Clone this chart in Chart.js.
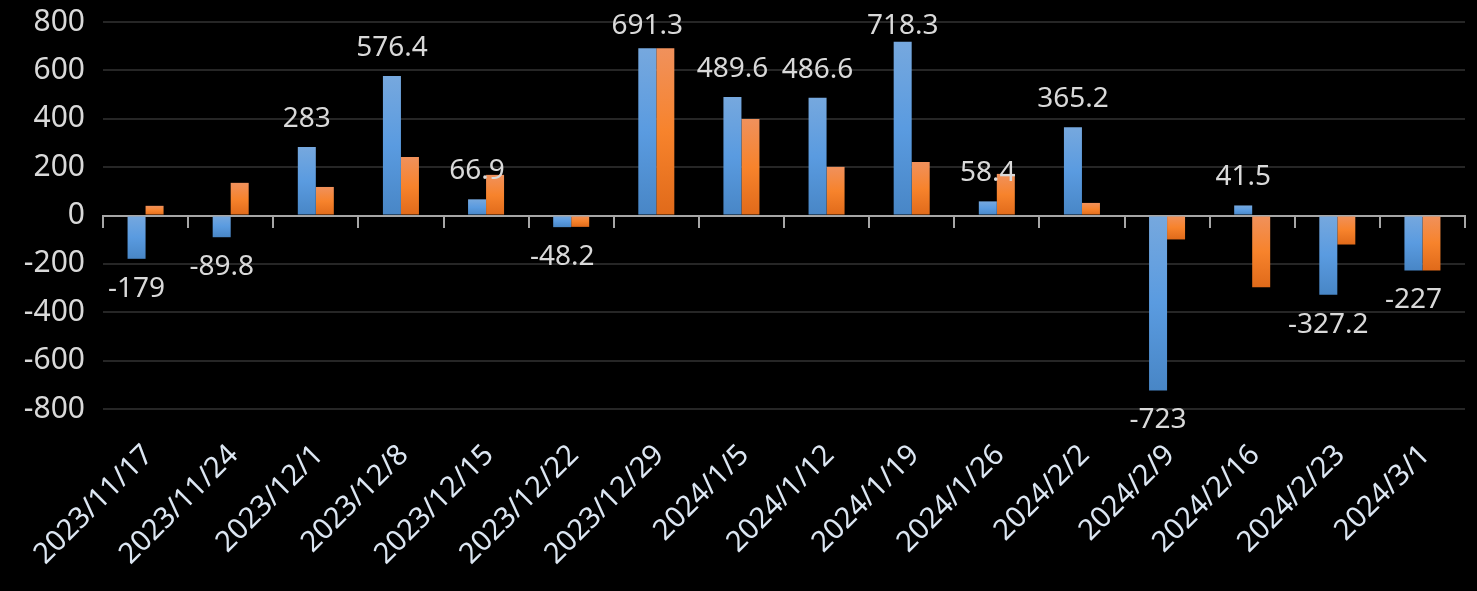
<!DOCTYPE html>
<html>
<head>
<meta charset="utf-8">
<script src="https://cdn.jsdelivr.net/npm/chart.js@4.4.1/dist/chart.umd.min.js"></script>
<style>
  html, body { margin: 0; padding: 0; background: #000; }
  #wrap { width: 1477px; height: 591px; position: relative; }
</style>
</head>
<body>
<div id="wrap"><canvas id="c"></canvas></div>
<script>
const categories = ['2023/11/17','2023/11/24','2023/12/1','2023/12/8','2023/12/15','2023/12/22','2023/12/29','2024/1/5','2024/1/12','2024/1/19','2024/1/26','2024/2/2','2024/2/9','2024/2/16','2024/2/23','2024/3/1'];
const seriesBlue = [-179, -89.8, 283, 576.4, 66.9, -48.2, 691.3, 489.6, 486.6, 718.3, 58.4, 365.2, -723, 41.5, -327.2, -227];
const seriesOrange = [40, 135, 118, 242, 168, -47, 691.3, 399, 201, 221, 172, 52, -99, -297, -120, -227];
const yTicks = [-800, -600, -400, -200, 0, 200, 400, 600, 800];

const FONT = '"Noto Sans", "Open Sans", "DejaVu Sans", sans-serif';

function gradFill(stops, solid) {
  return (ctx) => {
    const chart = ctx.chart;
    const y = chart.scales && chart.scales.y;
    if (!y || !chart.chartArea || ctx.type !== 'data') return solid;
    const v = ctx.raw;
    const p0 = y.getPixelForValue(0), p1 = y.getPixelForValue(v);
    const top = Math.min(p0, p1), bot = Math.max(p0, p1);
    if (bot - top < 1) return solid;
    const g = chart.ctx.createLinearGradient(0, top, 0, bot);
    g.addColorStop(0, stops[0]);
    g.addColorStop(0.5, stops[1]);
    g.addColorStop(1, stops[2]);
    return g;
  };
}

const labelPlugin = {
  id: 'blueLabels',
  afterDatasetsDraw(chart) {
    const meta = chart.getDatasetMeta(0);
    const c = chart.ctx;
    c.save();
    c.font = '28px ' + FONT;
    c.fillStyle = '#d9d9d9';
    c.textAlign = 'center';
    c.textBaseline = 'alphabetic';
    meta.data.forEach((bar, i) => {
      const v = seriesBlue[i];
      if (v >= 0) {
        c.fillText(String(v), bar.x, Math.max(bar.y - 20, 34));
      } else {
        c.fillText(String(v), bar.x, bar.y + 38);
      }
    });
    c.restore();
  }
};

new Chart(document.getElementById('c'), {
  type: 'bar',
  data: {
    labels: categories,
    datasets: [
      {
        label: 'Series 1',
        data: seriesBlue,
        backgroundColor: gradFill(['#76a8de', '#5a9be0', '#4886c6'], '#5a9be0'),
        borderWidth: 0,
        barPercentage: 1,
        categoryPercentage: 0.423
      },
      {
        label: 'Series 2',
        data: seriesOrange,
        backgroundColor: gradFill(['#f0915c', '#f7832c', '#e06a1a'], '#f7832c'),
        borderWidth: 0,
        barPercentage: 1,
        categoryPercentage: 0.423
      }
    ]
  },
  options: {
    responsive: true,
    maintainAspectRatio: false,
    animation: false,
    devicePixelRatio: 1,
    layout: { padding: { top: 22, right: 12, bottom: 0, left: 0 } },
    plugins: {
      legend: { display: false },
      tooltip: { enabled: false }
    },
    scales: {
      x: {
        position: 'bottom',
        offset: true,
        grid: { display: false, drawTicks: false },
        border: { display: false },
        ticks: {
          color: '#dce6f2',
          font: { family: FONT, size: 29 },
          minRotation: 45,
          maxRotation: 45,
          autoSkip: false,
          padding: 29,
          labelOffset: 3
        },
        afterFit(scale) { scale.height = 182; scale.paddingLeft = 0; scale.paddingRight = 0; }
      },
      x2: {
        type: 'category',
        labels: categories,
        position: { y: 0 },
        offset: true,
        grid: {
          display: true,
          offset: true,
          drawOnChartArea: false,
          drawTicks: true,
          tickLength: 11,
          tickColor: '#a6a6a6',
          tickWidth: 2,
          color: '#a6a6a6',
          lineWidth: 2
        },
        border: { display: true, color: '#a6a6a6', width: 2 },
        ticks: { display: false }
      },
      y: {
        min: -800,
        max: 800,
        afterBuildTicks(scale) { scale.ticks = yTicks.map(v => ({ value: v })); },
        grid: {
          color: (ctx) => (ctx.tick && ctx.tick.value === 0) ? 'rgba(0,0,0,0)' : '#262626',
          lineWidth: 2,
          drawTicks: false
        },
        border: { display: false },
        ticks: {
          color: '#d9d9d9',
          font: { family: FONT, size: 30 },
          padding: 18
        },
        afterFit(scale) { scale.width = 103; scale.paddingTop = 0; scale.paddingBottom = 0; }
      }
    }
  },
  plugins: [labelPlugin]
});
</script>
</body>
</html>
